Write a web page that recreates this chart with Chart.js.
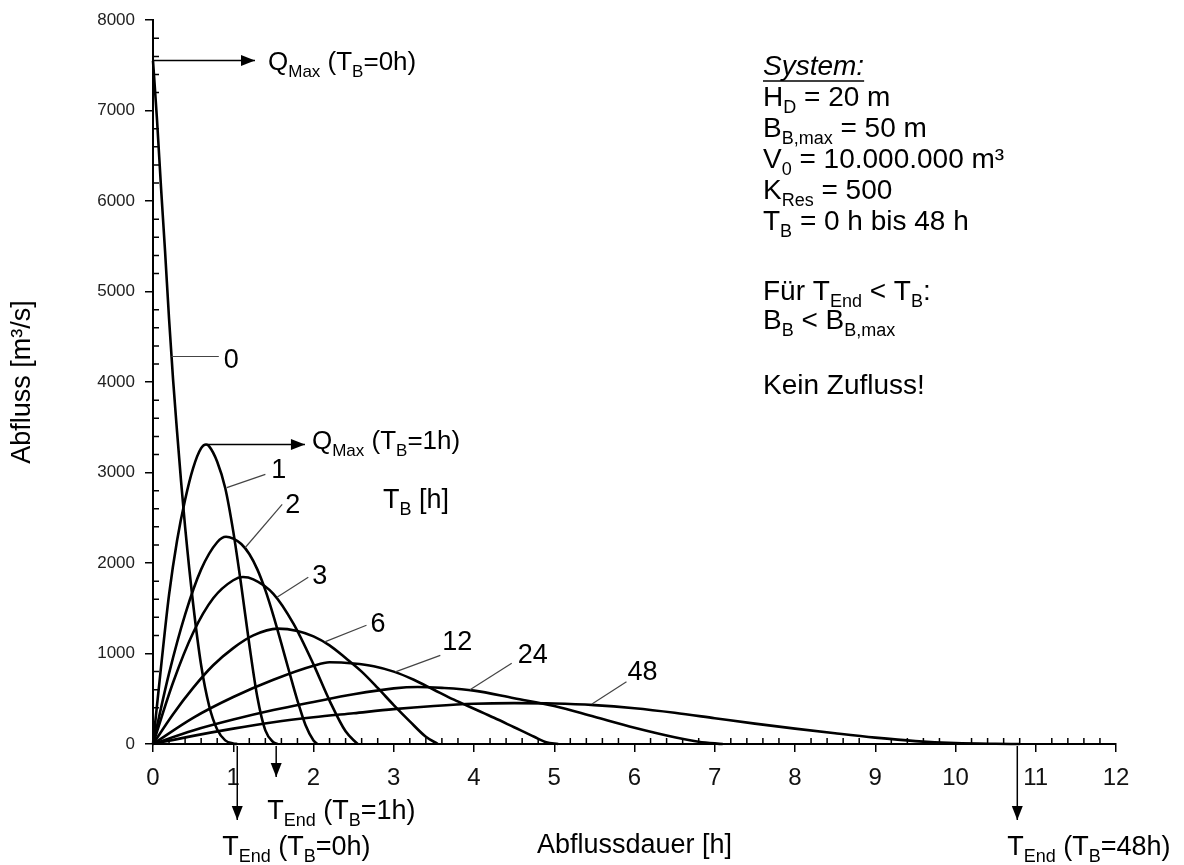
<!DOCTYPE html>
<html>
<head>
<meta charset="utf-8">
<script src="https://cdn.jsdelivr.net/npm/chart.js@4.4.0/dist/chart.umd.min.js"></script>
<style>
  html, body { margin: 0; padding: 0; background: #fff; }
  #wrap { width: 1184px; height: 865px; }
</style>
</head>
<body>
<div id="wrap"><canvas id="abflussChart" width="1184" height="865"></canvas></div>
<script>
// Abfluss [m³/s] over Abflussdauer [h] for different breach times T_B
const tbLabels = ['0', '1', '2', '3', '6', '12', '24', '48'];

const tb0Time = [0, 0.05, 0.1, 0.15, 0.2, 0.25, 0.3, 0.35, 0.4, 0.5, 0.6, 0.7, 0.8, 0.9, 1.0, 1.05];
const tb0Flow = [7550, 6900, 6150, 5450, 4700, 4030, 3450, 2900, 2400, 1550, 870, 420, 160, 40, 6, 0];

const tb1Time = [0, 0.1, 0.2, 0.3, 0.4, 0.5, 0.6, 0.66, 0.7, 0.8, 0.9, 1.0, 1.1, 1.2, 1.3, 1.4, 1.5, 1.55];
const tb1Flow = [0, 850, 1650, 2250, 2700, 3050, 3270, 3310, 3290, 3120, 2830, 2350, 1750, 1100, 520, 150, 20, 0];

const tb2Time = [0, 0.2, 0.4, 0.6, 0.8, 0.91, 1.0, 1.1, 1.2, 1.3, 1.4, 1.5, 1.6, 1.7, 1.8, 1.9, 2.0, 2.05];
const tb2Flow = [0, 780, 1430, 1930, 2230, 2290, 2270, 2210, 2100, 1930, 1700, 1420, 1110, 790, 480, 210, 40, 0];

const tb3Time = [0, 0.25, 0.5, 0.75, 1.0, 1.12, 1.25, 1.5, 1.75, 2.0, 2.2, 2.4, 2.55];
const tb3Flow = [0, 680, 1230, 1610, 1810, 1845, 1820, 1660, 1330, 880, 480, 140, 0];

const tb6Time = [0, 0.25, 0.5, 0.75, 1.0, 1.25, 1.55, 1.8, 2.0, 2.2, 2.4, 2.6, 2.8, 3.0, 3.2, 3.4, 3.55];
const tb6Flow = [0, 330, 620, 870, 1060, 1200, 1275, 1250, 1190, 1090, 950, 800, 620, 430, 250, 80, 0];

const tb12Time = [0, 0.5, 1.0, 1.5, 2.0, 2.2, 2.5, 2.75, 3.0, 3.25, 3.5, 3.75, 4.0, 4.25, 4.5, 4.75, 4.9, 5.05];
const tb12Flow = [0, 290, 520, 710, 865, 903, 890, 860, 800, 710, 600, 490, 390, 290, 185, 80, 20, 0];

const tb24Time = [0, 0.5, 1.0, 1.5, 2.0, 2.5, 3.0, 3.3, 3.6, 4.0, 4.5, 5.0, 5.5, 6.0, 6.5, 6.8, 7.1];
const tb24Flow = [0, 150, 270, 375, 465, 550, 615, 630, 620, 590, 505, 420, 300, 180, 75, 25, 0];

const tb48Time = [0, 0.5, 1.0, 1.5, 2.0, 2.5, 3.0, 3.5, 4.0, 4.5, 5.0, 5.5, 6.0, 6.5, 7.0, 7.5, 8.0, 8.5, 9.0, 9.5, 10.0, 10.5, 10.8];
const tb48Flow = [0, 90, 170, 240, 295, 340, 385, 420, 445, 452, 448, 430, 395, 345, 285, 225, 170, 118, 70, 32, 10, 2, 0];

const xTicks = [0, 1, 2, 3, 4, 5, 6, 7, 8, 9, 10, 11, 12];
const yTicks = [0, 1000, 2000, 3000, 4000, 5000, 6000, 7000, 8000];

const seriesTime = [tb0Time, tb1Time, tb2Time, tb3Time, tb6Time, tb12Time, tb24Time, tb48Time];
const seriesFlow = [tb0Flow, tb1Flow, tb2Flow, tb3Flow, tb6Flow, tb12Flow, tb24Flow, tb48Flow];

const FONT = '"Liberation Sans", Arial, sans-serif';

// curve labels: leader from a point on the curve (from) to (to), label offset in px
const curveNotes = [
  { text: '0',  from: [0.23, 4283], to: [0.82, 4283], dx: 5, dy: 12 },
  { text: '1',  from: [0.92, 2833], to: [1.40, 2980], dx: 6, dy: 4 },
  { text: '2',  from: [1.15, 2172], to: [1.61, 2648], dx: 3, dy: 9 },
  { text: '3',  from: [1.545, 1623], to: [1.935, 1843], dx: 4, dy: 7 },
  { text: '6',  from: [2.14, 1129], to: [2.66, 1313], dx: 4, dy: 7 },
  { text: '12', from: [3.02, 797],  to: [3.58, 979],  dx: 2, dy: -5 },
  { text: '24', from: [3.95, 599],  to: [4.47, 892],  dx: 6, dy: 0 },
  { text: '48', from: [5.47, 442],  to: [5.90, 688],  dx: 1, dy: -2 }
];

// Q_Max arrows (horizontal) and T_End arrows (down from the axis)
const qmaxNotes = [
  { at: [0, 7554],    len: 102, dx: 13, dy: 9, parts: [['Q'], ['Max', 1], [' (T'], ['B', 1], ['=0h)']] },
  { at: [0.66, 3310], len: 99,  dx: 7,  dy: 4, parts: [['Q'], ['Max', 1], [' (T'], ['B', 1], ['=1h)']] }
];
const tendNotes = [
  { t: 1.05,  len: 74, dx: -15, dy: 35, parts: [['T'], ['End', 1], [' (T'], ['B', 1], ['=0h)']] },
  { t: 1.535, len: 31, dx: -9,  dy: 42, parts: [['T'], ['End', 1], [' (T'], ['B', 1], ['=1h)']] },
  { t: 10.77, len: 74, dx: -10, dy: 35, parts: [['T'], ['End', 1], [' (T'], ['B', 1], ['=48h)']] }
];

// system description block (right side)
const systemLines = [
  { y: 75,  parts: [['System:']], italic: true, underline: true },
  { y: 106, parts: [['H'], ['D', 1], [' = 20 m']] },
  { y: 137, parts: [['B'], ['B,max', 1], [' = 50 m']] },
  { y: 168, parts: [['V'], ['0', 1], [' = 10.000.000 m³']] },
  { y: 199, parts: [['K'], ['Res', 1], [' = 500']] },
  { y: 230, parts: [['T'], ['B', 1], [' = 0 h bis 48 h']] },
  { y: 300, parts: [['Für T'], ['End', 1], [' < T'], ['B', 1], [':']] },
  { y: 329, parts: [['B'], ['B', 1], [' < B'], ['B,max', 1]] },
  { y: 394, parts: [['Kein Zufluss!']] }
];

function drawRich(ctx, parts, x, y, size, italic) {
  let cx = x;
  const style = italic ? 'italic ' : '';
  parts.forEach(p => {
    const sub = p[1] === 1;
    const s = sub ? Math.round(size * 0.65) : size;
    ctx.font = style + s + 'px ' + FONT;
    ctx.fillText(p[0], cx, sub ? y + Math.round(size * 0.25) : y);
    cx += ctx.measureText(p[0]).width;
  });
  return cx - x;
}

function drawArrow(ctx, x1, y1, x2, y2) {
  ctx.beginPath();
  ctx.moveTo(x1, y1);
  ctx.lineTo(x2, y2);
  ctx.stroke();
  const a = Math.atan2(y2 - y1, x2 - x1), L = 14, W = 5.5;
  ctx.beginPath();
  ctx.moveTo(x2, y2);
  ctx.lineTo(x2 - L * Math.cos(a) + W * Math.sin(a), y2 - L * Math.sin(a) - W * Math.cos(a));
  ctx.lineTo(x2 - L * Math.cos(a) - W * Math.sin(a), y2 - L * Math.sin(a) + W * Math.cos(a));
  ctx.closePath();
  ctx.fill();
}

const annotationPlugin = {
  id: 'abflussNotes',
  afterDraw(chart) {
    const ctx = chart.ctx;
    const xs = chart.scales.x, ys = chart.scales.y;
    const px = t => xs.getPixelForValue(t);
    const py = q => ys.getPixelForValue(q);
    ctx.save();

    // minor ticks, inside the plot
    ctx.strokeStyle = '#000';
    ctx.lineWidth = 1.5;
    ctx.beginPath();
    for (let v = 200; v < 8000; v += 200) {
      if (v % 1000 === 0) continue;
      ctx.moveTo(xs.left, py(v)); ctx.lineTo(xs.left + 6, py(v));
    }
    for (let i = 1; i < 60; i++) {
      if (i % 5 === 0) continue;
      const x = px(i * 0.2);
      ctx.moveTo(x, ys.bottom); ctx.lineTo(x, ys.bottom - 6);
    }
    ctx.stroke();

    ctx.fillStyle = '#000';
    ctx.textBaseline = 'alphabetic';
    ctx.textAlign = 'left';

    // curve labels with leaders
    curveNotes.forEach(n => {
      const x1 = px(n.from[0]), y1 = py(n.from[1]);
      const x2 = px(n.to[0]), y2 = py(n.to[1]);
      ctx.strokeStyle = '#444';
      ctx.lineWidth = 1.2;
      ctx.beginPath(); ctx.moveTo(x1, y1); ctx.lineTo(x2, y2); ctx.stroke();
      ctx.font = '27px ' + FONT;
      ctx.fillText(n.text, x2 + n.dx, y2 + n.dy);
    });

    ctx.strokeStyle = '#000';
    ctx.lineWidth = 1.5;
    qmaxNotes.forEach(n => {
      const x1 = px(n.at[0]), y1 = py(n.at[1]);
      drawArrow(ctx, x1, y1, x1 + n.len, y1);
      drawRich(ctx, n.parts, x1 + n.len + n.dx, y1 + n.dy, 26);
    });
    tendNotes.forEach(n => {
      const x1 = px(n.t), y1 = py(0) + 2;
      drawArrow(ctx, x1, y1, x1, y1 + n.len);
      drawRich(ctx, n.parts, x1 + n.dx, y1 + n.len + n.dy, 27);
    });

    drawRich(ctx, [['T'], ['B', 1], [' [h]']], 383, 508, 27);

    systemLines.forEach(l => {
      const w = drawRich(ctx, l.parts, 763, l.y, 28, l.italic);
      if (l.underline) {
        ctx.lineWidth = 1.5;
        ctx.beginPath(); ctx.moveTo(763, l.y + 6); ctx.lineTo(763 + w, l.y + 6); ctx.stroke();
      }
    });
    ctx.restore();
  }
};

const datasets = tbLabels.map((lab, i) => ({
  label: 'T_B = ' + lab + ' h',
  data: seriesTime[i].map((t, k) => ({ x: t, y: seriesFlow[i][k] })),
  borderColor: '#000',
  borderWidth: 2.6,
  pointRadius: 0,
  cubicInterpolationMode: 'monotone',
  fill: false,
  clip: 4
}));

new Chart(document.getElementById('abflussChart'), {
  type: 'line',
  data: { datasets: datasets },
  options: {
    responsive: false,
    animation: false,
    layout: { padding: { left: 0, right: 68, top: 17, bottom: 0 } },
    plugins: { legend: { display: false }, tooltip: { enabled: false } },
    scales: {
      x: {
        type: 'linear',
        min: 0,
        max: 12,
        afterFit: s => { s.height = 121; },
        afterBuildTicks: s => { s.ticks = xTicks.map(v => ({ value: v })); },
        ticks: {
          color: '#111',
          padding: 12,
          callback: v => String(v),
          font: { family: '"Liberation Sans Narrow", "Liberation Sans", Arial, sans-serif', size: 24 }
        },
        grid: { drawOnChartArea: false, drawTicks: true, tickLength: 8, color: '#000', lineWidth: 1.5 },
        border: { display: true, color: '#000', width: 2 },
        title: {
          display: true,
          text: 'Abflussdauer [h]',
          color: '#000',
          font: { family: FONT, size: 27 },
          padding: { top: 0, bottom: 3 }
        }
      },
      y: {
        type: 'linear',
        min: 0,
        max: 8000,
        afterFit: s => { s.width = 153; },
        afterBuildTicks: s => { s.ticks = yTicks.map(v => ({ value: v })); },
        ticks: {
          color: '#222',
          padding: 10,
          callback: v => String(v),
          font: { family: FONT, size: 17 }
        },
        grid: { drawOnChartArea: false, drawTicks: true, tickLength: 8, color: '#000', lineWidth: 1.5 },
        border: { display: true, color: '#000', width: 2 },
        title: {
          display: true,
          text: 'Abfluss [m³/s]',
          color: '#000',
          font: { family: FONT, size: 27 },
          padding: { top: 6, bottom: 0 }
        }
      }
    }
  },
  plugins: [annotationPlugin]
});
</script>
</body>
</html>
